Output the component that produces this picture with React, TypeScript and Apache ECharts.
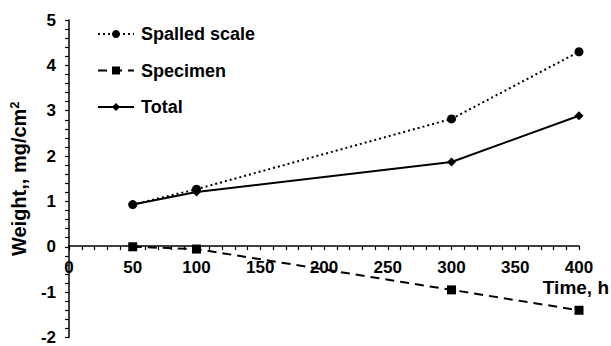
import React, { useEffect, useRef } from "react";
import * as echarts from "echarts";

const times = [50, 100, 300, 400];
const spalled = [0.93, 1.27, 2.82, 4.3];
const specimen = [0.0, -0.05, -0.95, -1.4];
const total = [0.93, 1.21, 1.87, 2.89];
const seriesNames = ["Spalled scale", "Specimen", "Total"];

const FONT = "'Liberation Sans', Arial, sans-serif";

const W = 611;
const H = 346;
const GRID = { left: 65, right: 32, top: 20, bottom: 6 };
const Y_MIN = -2;
const Y_MAX = 5;

export default function App() {
  const ref = useRef<HTMLDivElement>(null);
  useEffect(() => {
    if (!ref.current) return;
    const chart = echarts.init(ref.current, undefined, { renderer: "svg" });
    const pair = (vals: number[]) => times.map((t, i) => [t, vals[i]]);
    const gridH = H - GRID.top - GRID.bottom;
    const zeroOffset = -(gridH * (0 - Y_MIN)) / (Y_MAX - Y_MIN);
    chart.setOption({
      animation: false,
      textStyle: { fontFamily: FONT },
      grid: GRID,
      legend: {
        orient: "vertical",
        left: 92,
        top: 20,
        itemWidth: 36,
        itemHeight: 10,
        itemGap: 18.5,
        data: seriesNames,
        textStyle: { fontFamily: FONT, fontWeight: "bold", fontSize: 18, color: "#000", padding: [0, 0, 0, 2] },
      },
      xAxis: {
        type: "value",
        min: 0,
        max: 400,
        interval: 50,
        offset: zeroOffset,
        axisLine: { onZero: false, lineStyle: { color: "#000", width: 1.5 } },
        axisTick: { show: true, length: 4, lineStyle: { color: "#000", width: 1.2 } },
        minorTick: { show: true, splitNumber: 5, length: 4, lineStyle: { color: "#000", width: 1.2 } },
        splitLine: { show: false },
        axisLabel: { color: "#000", fontWeight: "bold", fontSize: 17, fontFamily: FONT, margin: 13 },
      },
      yAxis: {
        type: "value",
        min: Y_MIN,
        max: Y_MAX,
        interval: 1,
        name: "Weight,, mg/cm{sup|2}",
        nameLocation: "middle",
        nameGap: 40,
        nameTextStyle: {
          color: "#000",
          fontWeight: "bold",
          fontSize: 20,
          fontFamily: FONT,
          rich: {
            sup: { fontSize: 13, fontWeight: "bold", fontFamily: FONT, color: "#000", verticalAlign: "top", padding: [0, 0, 8, 0] },
          },
        },
        axisLine: { show: true, onZero: false, lineStyle: { color: "#000", width: 1.5 } },
        axisTick: { show: true, length: 4, lineStyle: { color: "#000", width: 1.2 } },
        minorTick: { show: true, splitNumber: 5, length: 4, lineStyle: { color: "#000", width: 1.2 } },
        splitLine: { show: false },
        axisLabel: { color: "#000", fontWeight: "bold", fontSize: 17, fontFamily: FONT, margin: 13 },
      },
      graphic: [
        {
          type: "text",
          right: 2,
          top: 278,
          style: { text: "Time, h", fontFamily: FONT, fontWeight: "bold", fontSize: 19, fill: "#000" },
        },
      ],
      series: [
        {
          name: seriesNames[0],
          type: "line",
          data: pair(spalled),
          symbol: "circle",
          symbolSize: 9,
          itemStyle: { color: "#000" },
          lineStyle: { color: "#000", width: 2, type: [2, 3] },
        },
        {
          name: seriesNames[1],
          type: "line",
          data: pair(specimen),
          symbol: "rect",
          symbolSize: 9,
          itemStyle: { color: "#000" },
          lineStyle: { color: "#000", width: 2, type: [9, 6] },
        },
        {
          name: seriesNames[2],
          type: "line",
          data: pair(total),
          symbol: "diamond",
          symbolSize: 9,
          itemStyle: { color: "#000" },
          lineStyle: { color: "#000", width: 2, type: "solid" },
        },
      ],
    });
    return () => chart.dispose();
  }, []);
  return <div ref={ref} style={{ position: "absolute", left: 0, top: 0, width: W, height: H }} />;
}
